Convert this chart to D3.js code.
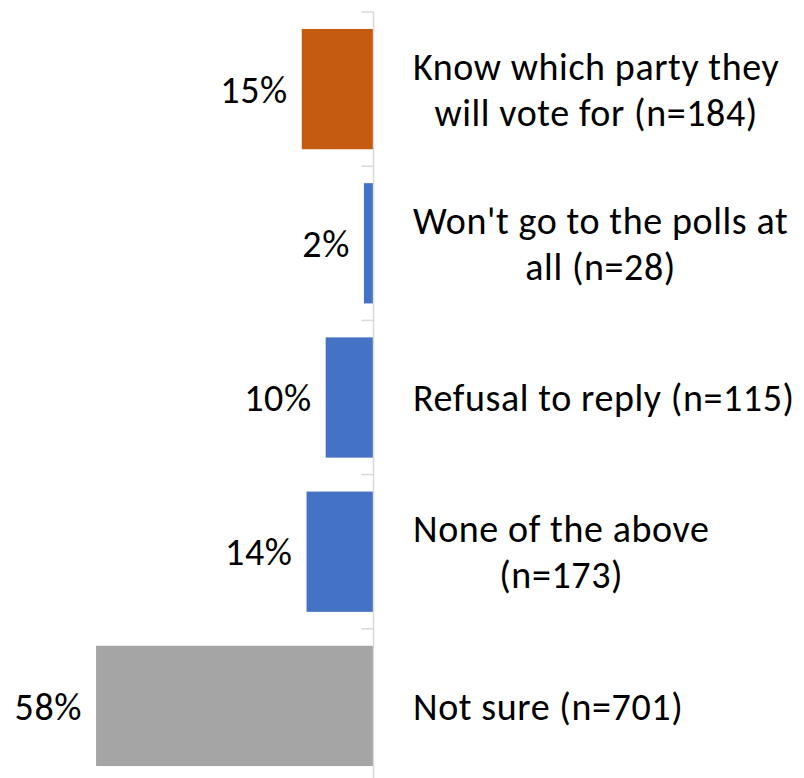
<!DOCTYPE html>
<html>
<head>
<meta charset="utf-8">
<script src="https://cdn.jsdelivr.net/npm/d3@7"></script>
<style>
  html, body { margin: 0; padding: 0; background: #fff; }
  svg text { font-family: Carlito, Calibri, Lato, "Open Sans", sans-serif; fill: #000; }
</style>
</head>
<body>
<svg id="chart" width="804" height="778"></svg>
<script>
// Survey responses: share of respondents per answer
const categories = [
  ["Know which party they", "will vote for (n=184)"],
  ["Won't go to the polls at", "all (n=28)"],
  ["Refusal to reply (n=115)"],
  ["None of the above", "(n=173)"],
  ["Not sure (n=701)"]
];
const values = [0.15, 0.02, 0.10, 0.14, 0.58];
const valueLabels = ["15%", "2%", "10%", "14%", "58%"];
const colors = ["#C55A11", "#4472C4", "#4472C4", "#4472C4", "#A5A5A5"];

const svg = d3.select("#chart");
const axisX = 373.5;

const x = d3.scaleLinear().domain([0, 0.6]).range([axisX, axisX - 287]);
const y = d3.scaleBand()
  .domain(d3.range(categories.length))
  .range([12, 783])
  .paddingInner(0.22)
  .paddingOuter(0.11);

// bars growing leftwards from the axis
svg.append("g").selectAll("rect")
  .data(values)
  .join("rect")
  .attr("x", d => x(d))
  .attr("y", (d, i) => y(i))
  .attr("width", d => x(0) - x(d))
  .attr("height", y.bandwidth())
  .attr("fill", (d, i) => colors[i]);

// category axis line and boundary ticks
const step = y.step();
const axisG = svg.append("g").attr("stroke", "#D9D9D9").attr("stroke-width", 1.5);
axisG.append("line")
  .attr("x1", axisX).attr("x2", axisX)
  .attr("y1", 12).attr("y2", 778);
axisG.selectAll("line.tick")
  .data(d3.range(categories.length))
  .join("line")
  .attr("class", "tick")
  .attr("x1", axisX - 12).attr("x2", axisX)
  .attr("y1", i => y(i) - step * 0.11)
  .attr("y2", i => y(i) - step * 0.11);

// value labels left of each bar
const fontSize = 38;
const spacing = "0.6px";
svg.append("g").selectAll("text")
  .data(values)
  .join("text")
  .attr("x", d => x(d) - 14)
  .attr("y", (d, i) => y(i) + y.bandwidth() / 2)
  .attr("dy", "0.36em")
  .attr("text-anchor", "end")
  .style("font-size", fontSize + "px")
  .style("letter-spacing", spacing)
  .text((d, i) => valueLabels[i]);

// category labels to the right of the axis, lines centred within the block
const labelLeft = 413;
const lineH = 46;
const labelG = svg.append("g");
categories.forEach((lines, i) => {
  const cy = y(i) + y.bandwidth() / 2;
  const g = labelG.append("g");
  const texts = lines.map((t, k) => g.append("text")
    .style("font-size", fontSize + "px")
    .style("letter-spacing", spacing)
    .attr("y", cy + (k - (lines.length - 1) / 2) * lineH)
    .attr("dy", "0.36em")
    .attr("text-anchor", "middle")
    .text(t));
  const maxW = d3.max(texts, t => t.node().getComputedTextLength());
  texts.forEach(t => t.attr("x", labelLeft + maxW / 2));
});
</script>
</body>
</html>
